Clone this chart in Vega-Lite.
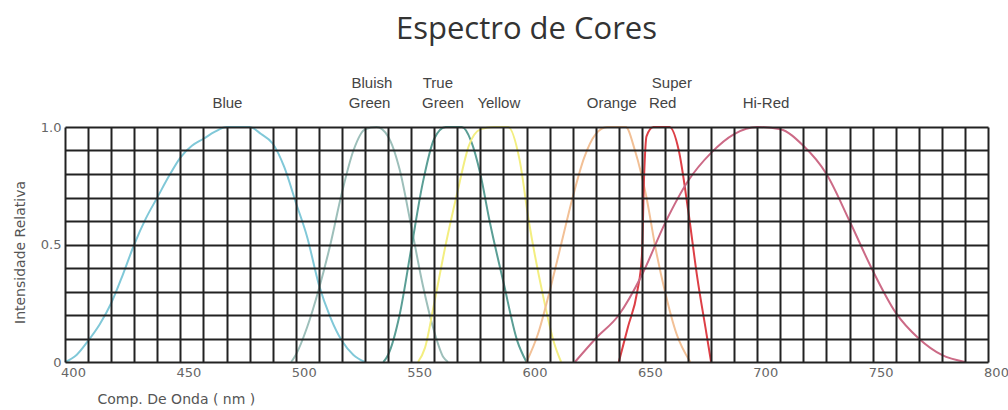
{
  "$schema": "https://vega.github.io/schema/vega-lite/v6.json",
  "width": 923,
  "height": 235,
  "autosize": {"type": "none"},
  "padding": {"left": 65, "top": 127, "right": 20, "bottom": 48},
  "background": "white",
  "title": {"text": "Espectro de Cores", "font": "Open Sans", "fontSize": 31, "fontWeight": "normal", "color": "#333333", "anchor": "middle", "frame": "group", "offset": 30},
  "config": {"view": {"stroke": null}},
  "encoding": {
    "x": {"field": "nm", "type": "quantitative",
      "scale": {"domain": [400, 800], "nice": false, "zero": false},
      "axis": {
        "values": [400,410,420,430,440,450,460,470,480,490,500,510,520,530,540,550,560,570,580,590,600,610,620,630,640,650,660,670,680,690,700,710,720,730,740,750,760,770,780,790,800],
        "labelExpr": "datum.value % 50 === 0 ? datum.label : ''",
        "grid": true, "gridColor": "#222222", "gridWidth": 2, "gridOpacity": 1,
        "ticks": false, "domain": false,
        "labelFont": "DejaVu Sans", "labelFontSize": 13, "labelColor": "#666666", "labelPadding": 4, "labelOffset": 8,
        "labelFlush": false, "labelOverlap": false,
        "title": "Comp. De Onda ( nm )", "titleFont": "DejaVu Sans", "titleFontSize": 14, "titleFontWeight": "normal", "titleColor": "#555555",
        "titleAlign": "left", "titleX": 32, "titleY": 30, "titleBaseline": "top",
        "zindex": 1
      }
    },
    "y": {"field": "v", "type": "quantitative",
      "scale": {"domain": [0, 1], "nice": false, "zero": true},
      "axis": {
        "values": [0,0.1,0.2,0.3,0.4,0.5,0.6,0.7,0.8,0.9,1],
        "labelExpr": "datum.value === 1 ? '1.0' : (datum.value === 0.5 ? '0.5' : (datum.value === 0 ? '0' : ''))",
        "grid": true, "gridColor": "#222222", "gridWidth": 2, "gridOpacity": 1,
        "ticks": false, "domain": false,
        "labelFont": "DejaVu Sans", "labelFontSize": 13, "labelColor": "#666666", "labelPadding": 4,
        "labelFlush": false, "labelOverlap": false,
        "title": "Intensidade Relativa", "titleFont": "DejaVu Sans", "titleFontSize": 14, "titleFontWeight": "normal", "titleColor": "#555555",
        "titleAngle": -90, "titleAlign": "center", "titleBaseline": "middle", "titleX": -45, "titleY": 125,
        "zindex": 1
      }
    }
  },
  "layer": [
    {
      "data": {"values": [
        {"s":"Blue","nm":400,"v":0},{"s":"Blue","nm":405,"v":0.03},{"s":"Blue","nm":410,"v":0.09},{"s":"Blue","nm":415,"v":0.16},{"s":"Blue","nm":420,"v":0.25},{"s":"Blue","nm":425,"v":0.37},{"s":"Blue","nm":430,"v":0.5},{"s":"Blue","nm":435,"v":0.61},{"s":"Blue","nm":440,"v":0.7},{"s":"Blue","nm":445,"v":0.79},{"s":"Blue","nm":450,"v":0.87},{"s":"Blue","nm":455,"v":0.92},{"s":"Blue","nm":460,"v":0.95},{"s":"Blue","nm":465,"v":0.98},{"s":"Blue","nm":470,"v":1.0},{"s":"Blue","nm":475,"v":1.0},{"s":"Blue","nm":480,"v":1.0},{"s":"Blue","nm":485,"v":0.97},{"s":"Blue","nm":490,"v":0.93},{"s":"Blue","nm":495,"v":0.83},{"s":"Blue","nm":500,"v":0.68},{"s":"Blue","nm":505,"v":0.53},{"s":"Blue","nm":510,"v":0.33},{"s":"Blue","nm":515,"v":0.19},{"s":"Blue","nm":520,"v":0.09},{"s":"Blue","nm":525,"v":0.03},{"s":"Blue","nm":530,"v":0},
        {"s":"Bluish Green","nm":498,"v":0},{"s":"Bluish Green","nm":500,"v":0.03},{"s":"Bluish Green","nm":505,"v":0.15},{"s":"Bluish Green","nm":510,"v":0.31},{"s":"Bluish Green","nm":515,"v":0.5},{"s":"Bluish Green","nm":520,"v":0.72},{"s":"Bluish Green","nm":525,"v":0.9},{"s":"Bluish Green","nm":530,"v":0.99},{"s":"Bluish Green","nm":535,"v":1.0},{"s":"Bluish Green","nm":540,"v":0.96},{"s":"Bluish Green","nm":545,"v":0.82},{"s":"Bluish Green","nm":550,"v":0.58},{"s":"Bluish Green","nm":555,"v":0.33},{"s":"Bluish Green","nm":560,"v":0.13},{"s":"Bluish Green","nm":564,"v":0.02},{"s":"Bluish Green","nm":566,"v":0},
        {"s":"True Green","nm":538,"v":0},{"s":"True Green","nm":540,"v":0.03},{"s":"True Green","nm":545,"v":0.2},{"s":"True Green","nm":550,"v":0.48},{"s":"True Green","nm":555,"v":0.76},{"s":"True Green","nm":560,"v":0.95},{"s":"True Green","nm":565,"v":1.0},{"s":"True Green","nm":572,"v":1.0},{"s":"True Green","nm":576,"v":0.94},{"s":"True Green","nm":580,"v":0.8},{"s":"True Green","nm":584,"v":0.6},{"s":"True Green","nm":590,"v":0.34},{"s":"True Green","nm":596,"v":0.09},{"s":"True Green","nm":600,"v":0},
        {"s":"Yellow","nm":553,"v":0},{"s":"Yellow","nm":556,"v":0.06},{"s":"Yellow","nm":560,"v":0.25},{"s":"Yellow","nm":565,"v":0.5},{"s":"Yellow","nm":570,"v":0.72},{"s":"Yellow","nm":575,"v":0.92},{"s":"Yellow","nm":580,"v":0.99},{"s":"Yellow","nm":586,"v":1.0},{"s":"Yellow","nm":592,"v":1.0},{"s":"Yellow","nm":597,"v":0.86},{"s":"Yellow","nm":601,"v":0.6},{"s":"Yellow","nm":607,"v":0.29},{"s":"Yellow","nm":612,"v":0.08},{"s":"Yellow","nm":615,"v":0},
        {"s":"Orange","nm":600,"v":0},{"s":"Orange","nm":605,"v":0.12},{"s":"Orange","nm":610,"v":0.3},{"s":"Orange","nm":615,"v":0.5},{"s":"Orange","nm":620,"v":0.7},{"s":"Orange","nm":625,"v":0.87},{"s":"Orange","nm":630,"v":0.97},{"s":"Orange","nm":635,"v":1.0},{"s":"Orange","nm":643,"v":1.0},{"s":"Orange","nm":647,"v":0.9},{"s":"Orange","nm":652,"v":0.7},{"s":"Orange","nm":656,"v":0.48},{"s":"Orange","nm":660,"v":0.3},{"s":"Orange","nm":665,"v":0.12},{"s":"Orange","nm":671,"v":0},
        {"s":"Super Red","nm":640,"v":0},{"s":"Super Red","nm":644,"v":0.15},{"s":"Super Red","nm":648,"v":0.3},{"s":"Super Red","nm":650,"v":0.45},{"s":"Super Red","nm":651,"v":0.8},{"s":"Super Red","nm":652,"v":0.96},{"s":"Super Red","nm":655,"v":1.0},{"s":"Super Red","nm":662,"v":1.0},{"s":"Super Red","nm":666,"v":0.9},{"s":"Super Red","nm":670,"v":0.65},{"s":"Super Red","nm":674,"v":0.36},{"s":"Super Red","nm":678,"v":0.12},{"s":"Super Red","nm":680,"v":0},
        {"s":"Hi-Red","nm":621,"v":0},{"s":"Hi-Red","nm":630,"v":0.1},{"s":"Hi-Red","nm":640,"v":0.2},{"s":"Hi-Red","nm":650,"v":0.37},{"s":"Hi-Red","nm":660,"v":0.59},{"s":"Hi-Red","nm":670,"v":0.77},{"s":"Hi-Red","nm":680,"v":0.89},{"s":"Hi-Red","nm":690,"v":0.97},{"s":"Hi-Red","nm":700,"v":1.0},{"s":"Hi-Red","nm":710,"v":0.99},{"s":"Hi-Red","nm":720,"v":0.92},{"s":"Hi-Red","nm":730,"v":0.8},{"s":"Hi-Red","nm":740,"v":0.6},{"s":"Hi-Red","nm":750,"v":0.39},{"s":"Hi-Red","nm":760,"v":0.21},{"s":"Hi-Red","nm":770,"v":0.1},{"s":"Hi-Red","nm":780,"v":0.03},{"s":"Hi-Red","nm":790,"v":0}
      ]},
      "mark": {"type": "line", "interpolate": "monotone", "strokeWidth": 2},
      "encoding": {
        "color": {"field": "s", "type": "nominal", "legend": null,
          "scale": {"domain": ["Blue","Bluish Green","True Green","Yellow","Orange","Super Red","Hi-Red"],
                    "range": ["#80c8d8","#9dbfba","#5a9e95","#f3ee80","#f2c096","#dd3f46","#cc6a86"]}},
        "detail": {"field": "s"}
      }
    },
    {
      "data": {"values": [
        {"t":"Blue","nm":470.4,"v":1.081},
        {"t":"Bluish","nm":533,"v":1.166},
        {"t":"Green","nm":532,"v":1.081},
        {"t":"True","nm":561.6,"v":1.166},
        {"t":"Green","nm":563.8,"v":1.081},
        {"t":"Yellow","nm":588,"v":1.081},
        {"t":"Orange","nm":637,"v":1.081},
        {"t":"Super","nm":663,"v":1.166},
        {"t":"Red","nm":659,"v":1.081},
        {"t":"Hi-Red","nm":703.8,"v":1.081}
      ]},
      "mark": {"type": "text", "font": "Liberation Sans", "fontSize": 15, "color": "#444444", "align": "center", "baseline": "alphabetic"},
      "encoding": {"text": {"field": "t"}}
    }
  ]
}
